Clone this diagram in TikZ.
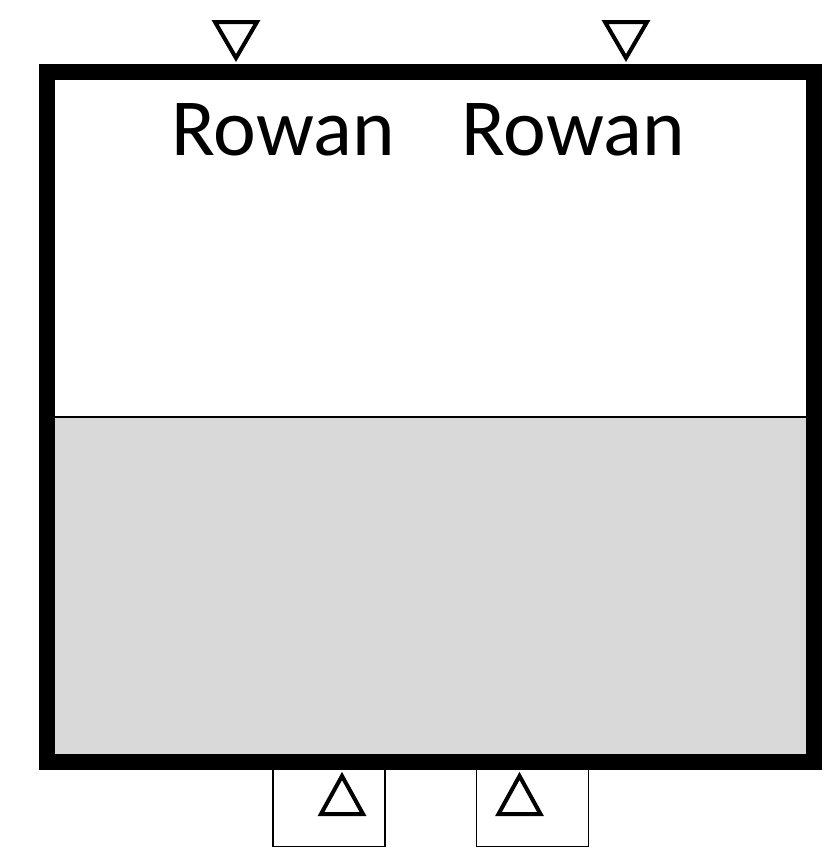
\documentclass[tikz,border=0pt]{standalone}
\usepackage{fontspec}
\setmainfont{Carlito}
\definecolor{fillgray}{HTML}{D9D9D9}
\begin{document}
\begin{tikzpicture}[x=1pt,y=-1pt,
  frame/.style={line width=16pt,line join=miter},
  tri/.style={line width=4pt,line join=miter},
  port/.style={line width=1.5pt},
  lbl/.style={font=\fontsize{81}{90}\selectfont,inner sep=0pt,anchor=base}]
\useasboundingbox (0,0) rectangle (828,854);
% bottom port boxes
\draw[port] (273,760) rectangle (385,846.5);
\draw[port] (476.5,760) rectangle (588.5,846.5);
% gray lower half
\fill[fillgray] (47,417) rectangle (814,762);
\draw[line width=2pt] (47,417) -- (814,417);
% frame
\draw[frame] (47,72) rectangle (814,762);
% top triangles
\draw[tri] (215,22) -- (257,22) -- (236,58) -- cycle;
\draw[tri] (605,22) -- (647,22) -- (626,58) -- cycle;
% bottom triangles
\draw[tri] (321,814) -- (363,814) -- (342,776) -- cycle;
\draw[tri] (498.5,814) -- (540.5,814) -- (519.5,776) -- cycle;
% labels
\node[lbl] (l1) at (283,155) {Rowan};
\node[lbl] (l2) at (573,155) {Rowan};
\end{tikzpicture}
\end{document}
